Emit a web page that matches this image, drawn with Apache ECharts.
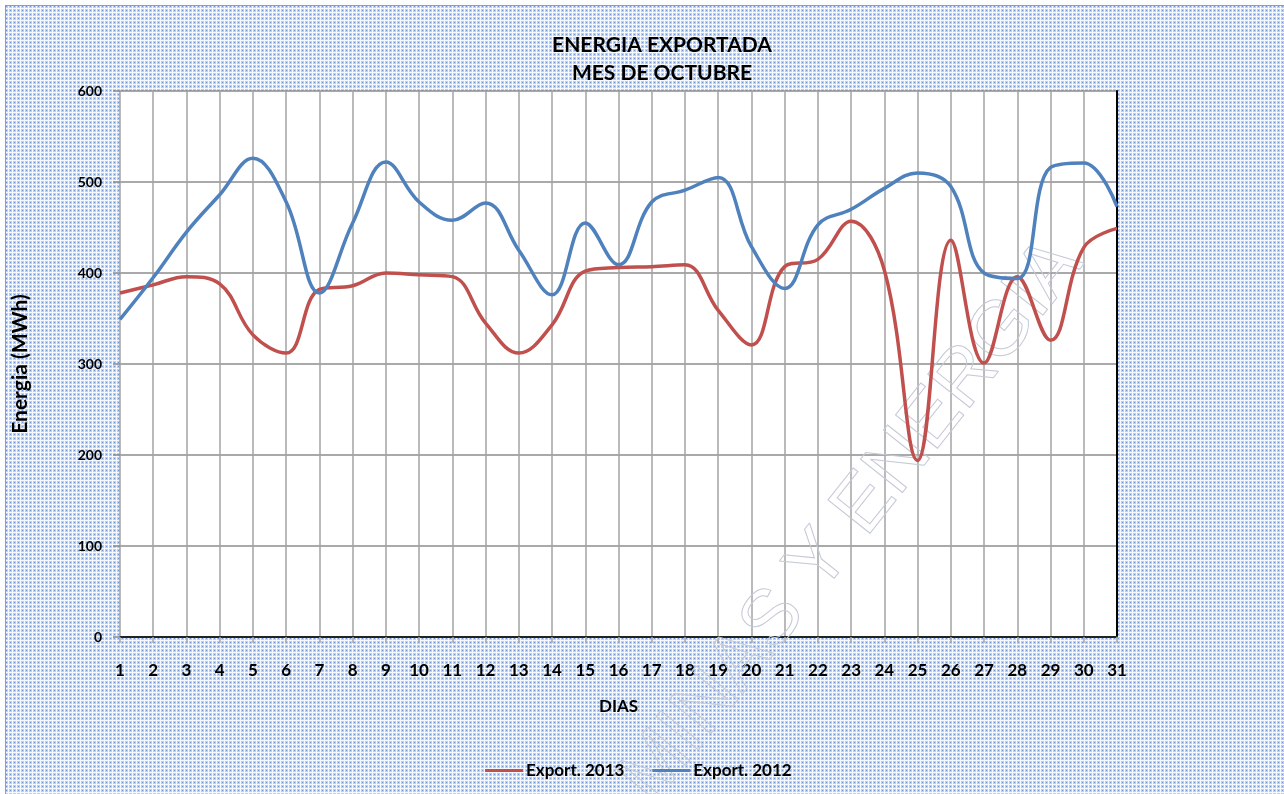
<!DOCTYPE html>
<html>
<head>
<meta charset="utf-8">
<script src="https://cdn.jsdelivr.net/npm/echarts@6/dist/echarts.min.js"></script>
<style>
  html, body { margin: 0; padding: 0; background: #fff; }
  #frame { position: absolute; left: 5px; top: 5px; width: 1290px; height: 800px; border: 1px solid #9a9a9a; box-sizing: border-box; }
  #chart { position: absolute; left: 0; top: 0; width: 1284px; height: 794px; }
</style>
</head>
<body>
<div id="frame"></div>
<div id="chart"></div>
<script>
// dias del mes
const dias = Array.from({ length: 31 }, (_, i) => String(i + 1));

// valores (MWh)
const export2013 = [378, 387, 396, 388, 332, 312, 382, 386, 400, 398, 396, 345, 312, 343, 402, 406, 407, 409, 359, 321, 407, 415, 457, 403, 194, 436, 301, 396, 326, 428, 449];
const export2012 = [349, 395, 445, 486, 526, 478, 378, 455, 522, 478, 458, 477, 425, 376, 455, 409, 478, 491, 505, 429, 383, 453, 470, 493, 510, 495, 400, 394, 516, 521, 473];

const serieNames = ['Export. 2013', 'Export. 2012'];
const serieColors = ['#c0504d', '#4f81bd'];

// fondo cuadriculado azul
const makePattern = () => {
  const c = document.createElement('canvas');
  c.width = 4; c.height = 4;
  const g = c.getContext('2d');
  g.fillStyle = '#bcd0ec';
  g.fillRect(0, 0, 4, 4);
  g.fillStyle = '#f6f9fd';
  g.fillRect(0, 0, 4, 1);
  g.fillRect(0, 0, 1, 4);
  g.fillStyle = '#7397d0';
  g.fillRect(2, 2, 1, 1);
  return c;
};

const font = 'Lato';
const chart = echarts.init(document.getElementById('chart'));

chart.setOption({
  backgroundColor: 'transparent',
  animation: false,
  graphic: [
    {
      type: 'rect', z: -10, silent: true,
      shape: { x: 6, y: 6, width: 1284, height: 794 },
      style: { fill: { image: makePattern(), repeat: 'repeat' } }
    },
    {
      type: 'text', z: 1, silent: true,
      x: 1098, y: 274, rotation: 0.9,
      style: {
        text: 'MINAS Y ENERGIA',
        font: 'normal 78px "Liberation Sans"',
        fill: 'none', stroke: '#c3c9d6', lineWidth: 1,
        align: 'right', verticalAlign: 'bottom'
      }
    }
  ],
  title: {
    text: 'ENERGIA EXPORTADA\nMES DE OCTUBRE',
    left: 657, top: 26, textAlign: 'center',
    textStyle: { fontFamily: font, fontWeight: 'bold', fontSize: 21, lineHeight: 28, color: '#000' }
  },
  legend: {
    left: 480, top: 757,
    itemWidth: 38, itemHeight: 3, itemGap: 28,
    icon: 'rect',
    data: serieNames,
    textStyle: { fontFamily: font, fontWeight: 'bold', fontSize: 17, color: '#000', padding: [0, 0, 0, -2] }
  },
  grid: {
    left: 120, right: 167, top: 91, bottom: 157,
    show: true, backgroundColor: '#fff', borderWidth: 0
  },
  xAxis: [
    {
      type: 'category', data: dias, boundaryGap: false,
      name: 'DIAS', nameLocation: 'middle', nameGap: 61,
      nameTextStyle: { fontFamily: font, fontWeight: 'bold', fontSize: 17, color: '#000' },
      axisLine: { lineStyle: { color: '#8c8c8c', width: 2 } },
      axisTick: { show: true, length: 6, inside: false, lineStyle: { color: '#a6a6a6', width: 1.5 } },
      axisLabel: { margin: 25, fontFamily: font, fontWeight: 'bold', fontSize: 17, color: '#000', interval: 0 },
      splitLine: { show: true, lineStyle: { color: '#a3a3a3', width: 1.5 } }
    },
    {
      type: 'category', data: dias, boundaryGap: false, position: 'top',
      axisLine: { lineStyle: { color: '#000', width: 1.5 } },
      axisTick: { show: false }, axisLabel: { show: false }, splitLine: { show: false }
    }
  ],
  yAxis: [
    {
      type: 'value', min: 0, max: 600, interval: 100,
      name: 'Energia (MWh)', nameLocation: 'middle', nameGap: 89, nameRotate: 90,
      nameTextStyle: { fontFamily: font, fontWeight: 'bold', fontSize: 21, color: '#000' },
      axisLine: { show: false },
      axisTick: { show: true, length: 7, lineStyle: { color: '#8c8c8c', width: 1.5 } },
      axisLabel: { margin: 18, fontFamily: font, fontWeight: 'bold', fontSize: 14, color: '#000' },
      splitLine: { show: true, lineStyle: { color: '#8c8c8c', width: 1.5 } }
    },
    {
      type: 'value', min: 0, max: 600, interval: 100, position: 'right',
      axisLine: { show: true, lineStyle: { color: '#000', width: 2 } },
      axisTick: { show: false }, axisLabel: { show: false }, splitLine: { show: false }
    }
  ],
  series: [
    {
      name: serieNames[0], type: 'line', data: export2013,
      smooth: 0.4, symbol: 'none',
      color: serieColors[0],
      lineStyle: { width: 3.5, color: serieColors[0] }
    },
    {
      name: serieNames[1], type: 'line', data: export2012,
      smooth: 0.4, symbol: 'none',
      color: serieColors[1],
      lineStyle: { width: 3.5, color: serieColors[1] }
    }
  ]
});
</script>
</body>
</html>
